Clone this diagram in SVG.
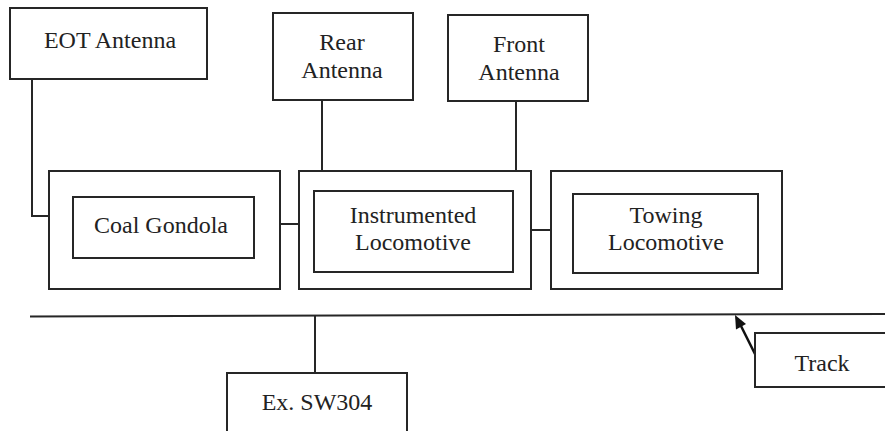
<svg xmlns="http://www.w3.org/2000/svg" width="885" height="431" viewBox="0 0 885 431">
<defs>
<style>
.box{fill:#fff;stroke:#262626;stroke-width:2}
.ln{fill:none;stroke:#262626;stroke-width:2}
.t{font-family:"Times New Roman","Liberation Serif","DejaVu Serif",Times,serif;font-size:24px;fill:#222;text-anchor:middle}
</style>
</defs>
<rect width="885" height="431" fill="#fff"/>
<g id="connectors">
<polyline class="ln" points="32,79 32,216 49,216"/>
<line class="ln" x1="322" y1="100" x2="322" y2="171"/>
<line class="ln" x1="516" y1="101" x2="516" y2="171"/>
<line class="ln" x1="280" y1="224" x2="299" y2="224"/>
<line class="ln" x1="531" y1="230" x2="551" y2="230"/>
<line class="ln" x1="30" y1="316.5" x2="885" y2="314"/>
<line class="ln" x1="315" y1="315.5" x2="315" y2="373"/>
<line x1="755" y1="354" x2="741" y2="326" stroke="#111" stroke-width="2.5"/>
<polygon points="735,315 746,324 736,329.5" fill="#111"/>
</g>
<g id="eot-antenna">
<rect class="box" x="10" y="8" width="197" height="71"/>
<text class="t" x="110" y="48">EOT Antenna</text>
</g>
<g id="rear-antenna">
<rect class="box" x="273" y="13" width="140" height="87"/>
<text class="t" x="342" y="50">Rear</text>
<text class="t" x="342" y="78">Antenna</text>
</g>
<g id="front-antenna">
<rect class="box" x="448" y="15" width="140" height="86"/>
<text class="t" x="519" y="52">Front</text>
<text class="t" x="519" y="80">Antenna</text>
</g>
<g id="coal-gondola">
<rect class="box" x="49" y="171" width="231" height="118"/>
<rect class="box" x="73" y="197" width="181" height="61"/>
<text class="t" x="161" y="233">Coal Gondola</text>
</g>
<g id="instrumented-locomotive">
<rect class="box" x="299" y="171" width="232" height="118"/>
<rect class="box" x="314" y="191" width="199" height="81"/>
<text class="t" x="413" y="223">Instrumented</text>
<text class="t" x="413" y="250">Locomotive</text>
</g>
<g id="towing-locomotive">
<rect class="box" x="551" y="171" width="231" height="118"/>
<rect class="box" x="573" y="194" width="185" height="79"/>
<text class="t" x="666" y="223">Towing</text>
<text class="t" x="666" y="250">Locomotive</text>
</g>
<g id="ex-sw304">
<rect class="box" x="227" y="373" width="180" height="70"/>
<text class="t" x="317" y="410">Ex. SW304</text>
</g>
<g id="track">
<rect class="box" x="755" y="333" width="140" height="54"/>
<text class="t" x="822" y="371">Track</text>
</g>
</svg>
